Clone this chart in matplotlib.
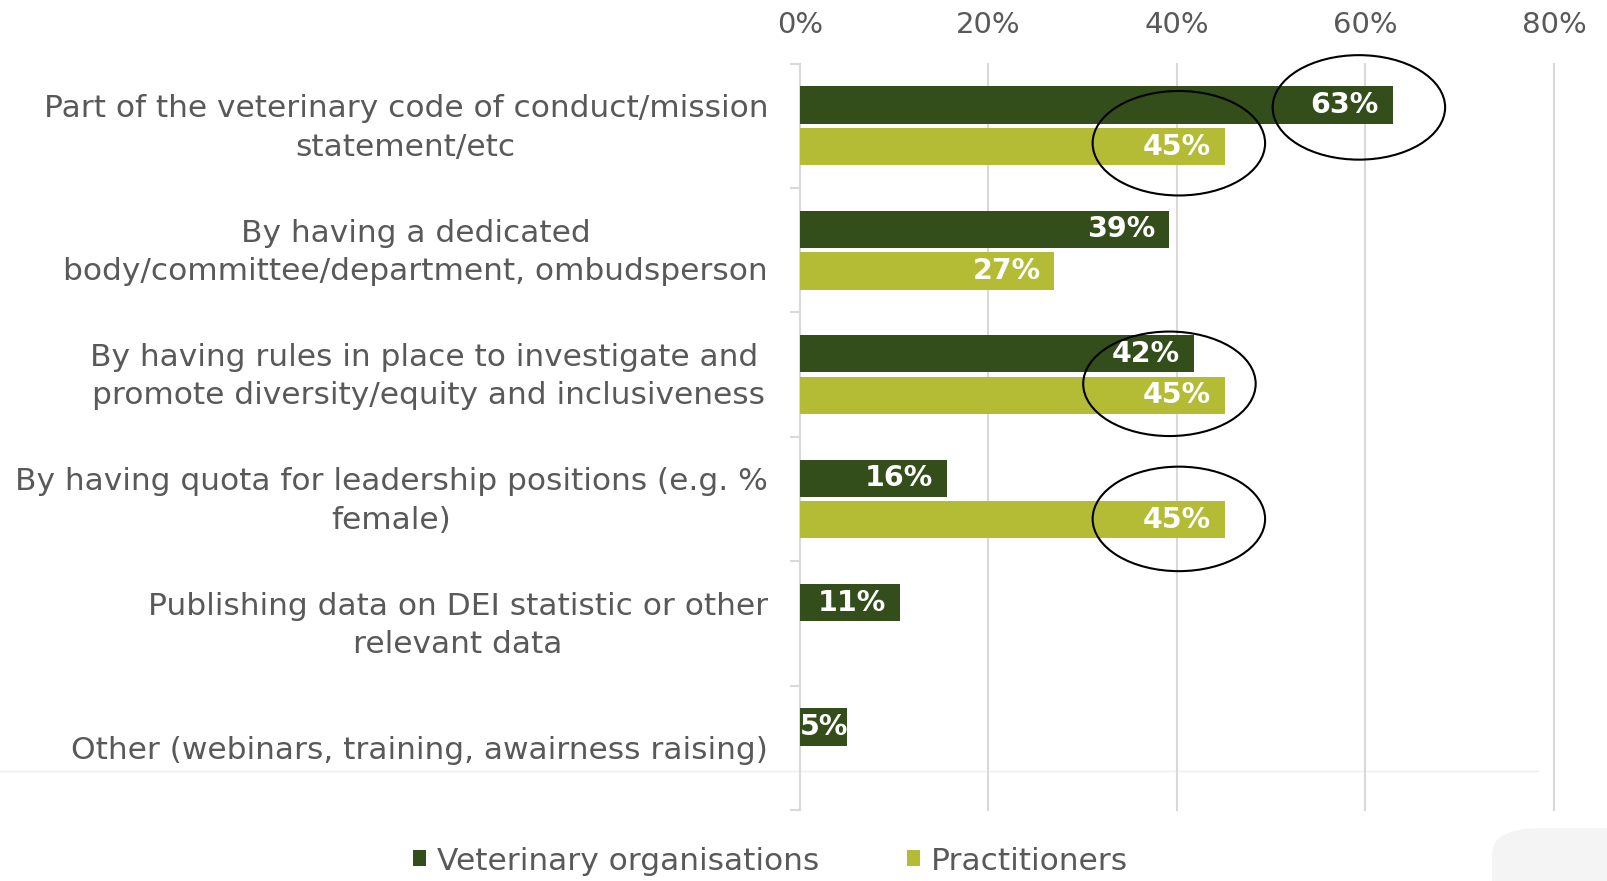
import matplotlib
matplotlib.use("Agg")
import matplotlib.pyplot as plt
from matplotlib.patches import Ellipse, Patch, FancyBboxPatch
from matplotlib.lines import Line2D
from matplotlib.transforms import ScaledTranslation
import numpy as np

categories = [
    "Part of the veterinary code of conduct/mission\nstatement/etc",
    "By having a dedicated\nbody/committee/department, ombudsperson",
    "By having rules in place to investigate and \npromote diversity/equity and inclusiveness",
    "By having quota for leadership positions (e.g. %\nfemale)",
    "Publishing data on DEI statistic or other\nrelevant data",
    "Other (webinars, training, awairness raising)",
]
vet_orgs = [62.9, 39.2, 41.8, 15.6, 10.6, 5.0]
practitioners = [45.1, 27.0, 45.1, 45.1, None, None]
series_names = ["Veterinary organisations", "Practitioners"]
xticks = [0, 20, 40, 60, 80]
xtick_labels = ["0%", "20%", "40%", "60%", "80%"]

# highlight ellipses: (x centre %, y centre in category units)
ellipses = [(59.3, -0.148), (40.2, 0.14), (39.2, 2.074), (40.2, 3.16)]
ell_w, ell_h = 18.3, 0.84

DARK = "#344E1B"
LIGHT = "#B4BB34"
GRID = "#D9D9D9"
TXT = "#595959"
FONT = "DejaVu Sans"

plt.rcParams["font.family"] = [FONT]

fig = plt.figure(figsize=(16.08, 8.81), dpi=100)
ax = fig.add_axes([0.4975, 0.0806, 0.4689, 0.8472])
ax.patch.set_alpha(0)

y = np.arange(len(categories))
h = 0.30
off = 0.167
ax.barh(y - off, vet_orgs, height=h, color=DARK, zorder=3)
pr_y = [yy + off for yy, v in zip(y, practitioners) if v is not None]
pr_v = [v for v in practitioners if v is not None]
ax.barh(pr_y, pr_v, height=h, color=LIGHT, zorder=3)

def label(v, yy):
    txt = f"{round(v)}%"
    if v < 8:
        ax.text(v / 2, yy, txt, ha="center", va="center", color="white",
                fontsize=20.5, fontweight="bold", zorder=5)
    else:
        ax.annotate(txt, (v, yy), xytext=(-10, 0), textcoords="offset points",
                    ha="right", va="center", color="white", fontsize=20.5,
                    fontweight="bold", zorder=5)

for yy, v in zip(y, vet_orgs):
    label(v, yy - off)
for yy, v in zip(pr_y, pr_v):
    label(v, yy)

for (cx, cy) in ellipses:
    ax.add_patch(Ellipse((cx, cy), ell_w, ell_h, fill=False, edgecolor="black",
                         linewidth=1.5, zorder=6, clip_on=False))

ax.set_xlim(0, 80)
ax.set_ylim(len(categories) - 0.5, -0.5)
ax.xaxis.tick_top()
ax.set_xticks(xticks)
ax.set_xticklabels(xtick_labels, fontsize=21, color=TXT)
ax.tick_params(axis="x", length=0, pad=18)
for x in xticks:
    ax.axvline(x, color=GRID, linewidth=1.5, zorder=0, clip_on=False)

ax.set_yticks(y)
ax.set_yticklabels(categories, fontsize=22.5, color=TXT, ha="right",
                   multialignment="center", linespacing=1.41)
ax.tick_params(axis="y", which="major", length=0, pad=23)
shift = ScaledTranslation(0, 4 / 72, fig.dpi_scale_trans)
for lbl in ax.get_yticklabels():
    if "\n" in lbl.get_text():
        lbl.set_transform(lbl.get_transform() + shift)
ax.set_yticks(np.arange(-0.5, len(categories), 1.0), minor=True)
ax.tick_params(axis="y", which="minor", length=7, width=1.5, color=GRID, direction="out")

for s in ["top", "right", "bottom"]:
    ax.spines[s].set_visible(False)
ax.spines["left"].set_color(GRID)
ax.spines["left"].set_linewidth(1.5)

handles = [Patch(facecolor=DARK), Patch(facecolor=LIGHT)]
fig.legend(handles, series_names, loc="center", bbox_to_anchor=(0.479, 0.0227),
           ncol=2, frameon=False, fontsize=22.5, labelcolor=TXT,
           handlelength=0.42, handleheight=0.42, handletextpad=0.35,
           columnspacing=2.8)

# faint screenshot artefacts
fig.add_artist(Line2D([0, 1538 / 1608], [1 - 771 / 881] * 2, color="#EFEFEF",
                      linewidth=1, transform=fig.transFigure, zorder=-1))
fig.add_artist(FancyBboxPatch((1492 / 1608, -0.05), 0.2, 0.11,
                              boxstyle="round,pad=0,rounding_size=0.03",
                              transform=fig.transFigure, facecolor="#F4F4F4",
                              edgecolor="none", zorder=-1))

fig.savefig("out.png", dpi=100)
